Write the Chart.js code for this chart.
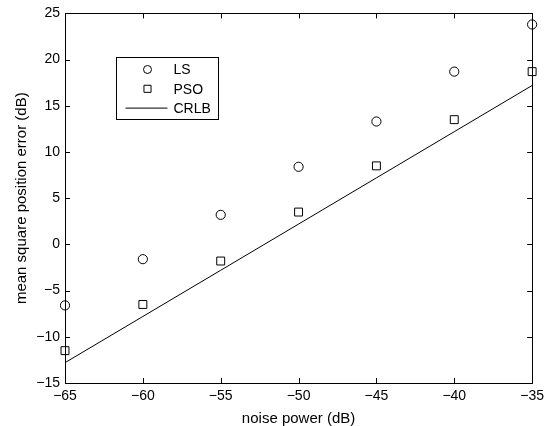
<!DOCTYPE html>
<html lang="en">
<head>
  <meta charset="UTF-8" />
  <title>MSE vs noise power</title>
  <script src="https://cdn.jsdelivr.net/npm/chart.js"></script>
  <style>
    body {
      margin: 0;
      background: #fff;
    }
    #wrap {
      position: relative;
      width: 549px;
      height: 426px;
    }
  </style>
</head>
<body>

<div id="wrap">
  <canvas id="mseChart" width="549" height="426"></canvas>
</div>

<script>
  const noisePower = [-65, -60, -55, -50, -45, -40, -35];
  const lsError   = [-6.6, -1.6, 3.2, 8.4, 13.3, 18.7, 23.8];
  const psoError  = [-11.5, -6.5, -1.8, 3.5, 8.5, 13.5, 18.7];
  const crlbError = [-12.8, -7.8, -2.8, 2.2, 7.2, 12.2, 17.2];
  const xTicks = [-65, -60, -55, -50, -45, -40, -35];
  const yTicks = [-15, -10, -5, 0, 5, 10, 15, 20, 25];

  const font = "'Liberation Sans', Arial, sans-serif";
  const minus = v => String(v).replace('-', '\u2212');

  const toPts = ys => noisePower.map((x, i) => ({ x: x, y: ys[i] }));

  // matlab style box with inward ticks on all four sides
  const boxPlugin = {
    id: 'box',
    afterDraw(chart) {
      const { ctx, chartArea: a, scales } = chart;
      ctx.save();
      ctx.strokeStyle = '#000';
      ctx.lineWidth = 1;
      ctx.beginPath();
      xTicks.forEach(v => {
        const px = Math.round(scales.x.getPixelForValue(v)) + 0.5;
        ctx.moveTo(px, a.bottom); ctx.lineTo(px, a.bottom - 5);
        ctx.moveTo(px, a.top); ctx.lineTo(px, a.top + 5);
      });
      yTicks.forEach(v => {
        const py = Math.round(scales.y.getPixelForValue(v)) + 0.5;
        ctx.moveTo(a.left, py); ctx.lineTo(a.left + 5, py);
        ctx.moveTo(a.right, py); ctx.lineTo(a.right - 5, py);
      });
      ctx.stroke();
      ctx.strokeRect(Math.round(a.left) + 0.5, Math.round(a.top) + 0.5,
                     Math.round(a.right - a.left), Math.round(a.bottom - a.top));
      ctx.restore();
    }
  };

  // legend box inside the axes, upper left
  const legendPlugin = {
    id: 'boxLegend',
    afterDraw(chart) {
      const { ctx } = chart;
      const x0 = 116.5, y0 = 57.5, w = 102, h = 62;
      ctx.save();
      ctx.fillStyle = '#fff';
      ctx.fillRect(x0, y0, w, h);
      ctx.strokeStyle = '#000';
      ctx.lineWidth = 1;
      ctx.strokeRect(x0, y0, w, h);
      ctx.font = '14px ' + font;
      ctx.textBaseline = 'middle';
      chart.data.datasets.forEach((ds, i) => {
        const cy = y0 + 12 + i * 19.3;
        if (ds.showLine) {
          ctx.beginPath();
          ctx.moveTo(x0 + 9, cy);
          ctx.lineTo(x0 + 51, cy);
          ctx.stroke();
        } else {
          ctx.fillStyle = 'rgba(0,0,0,0)';
          Chart.helpers.drawPoint(ctx, {
            pointStyle: ds.pointStyle,
            radius: ds.pointStyle === 'rect' ? 5 : 4,
            borderWidth: 1
          }, x0 + 31, cy);
        }
        ctx.fillStyle = '#000';
        ctx.fillText(ds.label, x0 + 57, cy + 1);
      });
      ctx.restore();
    }
  };

  new Chart(document.getElementById('mseChart'), {
    type: 'scatter',
    data: {
      datasets: [
        {
          label: 'LS',
          data: toPts(lsError),
          pointStyle: 'circle',
          pointRadius: 4.6,
          borderColor: '#000',
          backgroundColor: 'rgba(0,0,0,0)',
          borderWidth: 1,
          showLine: false
        },
        {
          label: 'PSO',
          data: toPts(psoError),
          pointStyle: 'rect',
          pointRadius: 5.6,
          borderColor: '#000',
          backgroundColor: 'rgba(0,0,0,0)',
          borderWidth: 1,
          showLine: false
        },
        {
          label: 'CRLB',
          data: toPts(crlbError),
          pointRadius: 0,
          borderColor: '#000',
          borderWidth: 1,
          showLine: true
        }
      ]
    },
    options: {
      responsive: false,
      animation: false,
      clip: false,
      layout: { padding: { top: 13, right: 16, bottom: 0, left: 0 } },
      plugins: {
        legend: { display: false },
        tooltip: { enabled: false }
      },
      scales: {
        x: {
          type: 'linear',
          min: -65,
          max: -35,
          afterBuildTicks: s => { s.ticks = xTicks.map(v => ({ value: v })); },
          afterFit: s => { s.height = 43; },
          grid: { display: false, drawTicks: false },
          border: { display: false },
          ticks: {
            color: '#000',
            padding: 5,
            font: { family: font, size: 14 },
            callback: v => minus(v)
          },
          title: {
            display: true,
            text: 'noise power (dB)',
            color: '#000',
            padding: { top: 0, bottom: 0 },
            font: { family: font, size: 15, lineHeight: 1 }
          }
        },
        y: {
          type: 'linear',
          min: -15,
          max: 25,
          afterBuildTicks: s => { s.ticks = yTicks.map(v => ({ value: v })); },
          afterFit: s => { s.width = 65; },
          grid: { display: false, drawTicks: false },
          border: { display: false },
          ticks: {
            color: '#000',
            padding: 5,
            font: { family: font, size: 14 },
            callback: v => minus(v)
          },
          title: {
            display: true,
            text: 'mean square position error (dB)',
            color: '#000',
            padding: { top: 13, bottom: 0 },
            font: { family: font, size: 15 }
          }
        }
      }
    },
    plugins: [boxPlugin, legendPlugin]
  });
</script>

</body>
</html>
